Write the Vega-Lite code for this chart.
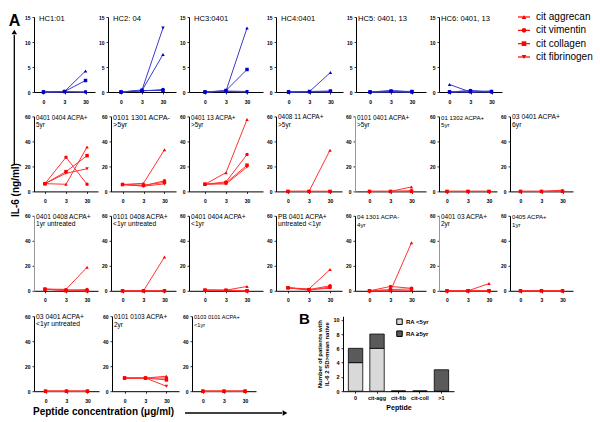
{
"$schema":"https://vega.github.io/schema/vega-lite/v6.json",
"padding":{"left":0,"top":12,"right":0,"bottom":0},
"config":{
 "view":{"stroke":null},
 "font":"Liberation Sans",
 "axis":{"grid":false,"domainColor":"#000","tickColor":"#000","labelColor":"#000","titleColor":"#000","labelFont":"Liberation Sans","labelFontSize":5,"labelFontWeight":"bold","tickSize":2,"labelPadding":2,"domainWidth":1,"tickWidth":0.8},
 "axisX":{"labelPadding":5},
 "title":{"anchor":"start","frame":"group","baseline":"bottom","offset":-14,"dx":2,"fontWeight":"normal","fontSize":6.5,"color":"#000","font":"Liberation Sans","lineHeight":7.5},
 "line":{"color":"#ff3333","strokeWidth":1},
 "point":{"filled":true,"size":12,"color":"#ff0000","opacity":1}
},
"data":{"values":[
{"p":"r1p1","s":"agg","c":"0","v":0},{"p":"r1p1","s":"agg","c":"3","v":0.1},{"p":"r1p1","s":"agg","c":"30","v":4.2},
{"p":"r1p1","s":"vim","c":"0","v":0},{"p":"r1p1","s":"vim","c":"3","v":0.1},{"p":"r1p1","s":"vim","c":"30","v":0},
{"p":"r1p1","s":"col","c":"0","v":0},{"p":"r1p1","s":"col","c":"3","v":0.1},{"p":"r1p1","s":"col","c":"30","v":2.3},
{"p":"r1p1","s":"fib","c":"0","v":0},{"p":"r1p1","s":"fib","c":"3","v":0},{"p":"r1p1","s":"fib","c":"30","v":0},
{"p":"r1p2","s":"agg","c":"0","v":0},{"p":"r1p2","s":"agg","c":"3","v":0.3},{"p":"r1p2","s":"agg","c":"30","v":7.5},
{"p":"r1p2","s":"vim","c":"0","v":0},{"p":"r1p2","s":"vim","c":"3","v":0.2},{"p":"r1p2","s":"vim","c":"30","v":0.5},
{"p":"r1p2","s":"col","c":"0","v":0},{"p":"r1p2","s":"col","c":"3","v":0.3},{"p":"r1p2","s":"col","c":"30","v":0.3},
{"p":"r1p2","s":"fib","c":"0","v":0},{"p":"r1p2","s":"fib","c":"3","v":0.4},{"p":"r1p2","s":"fib","c":"30","v":12.8},
{"p":"r1p3","s":"agg","c":"0","v":0},{"p":"r1p3","s":"agg","c":"3","v":0.2},{"p":"r1p3","s":"agg","c":"30","v":12.8},
{"p":"r1p3","s":"vim","c":"0","v":0},{"p":"r1p3","s":"vim","c":"3","v":0.1},{"p":"r1p3","s":"vim","c":"30","v":0},
{"p":"r1p3","s":"col","c":"0","v":0},{"p":"r1p3","s":"col","c":"3","v":0.3},{"p":"r1p3","s":"col","c":"30","v":4.5},
{"p":"r1p3","s":"fib","c":"0","v":0},{"p":"r1p3","s":"fib","c":"3","v":0.2},{"p":"r1p3","s":"fib","c":"30","v":0.1},
{"p":"r1p4","s":"agg","c":"0","v":0},{"p":"r1p4","s":"agg","c":"3","v":0.1},{"p":"r1p4","s":"agg","c":"30","v":3.9},
{"p":"r1p4","s":"vim","c":"0","v":0},{"p":"r1p4","s":"vim","c":"3","v":0},{"p":"r1p4","s":"vim","c":"30","v":0.1},
{"p":"r1p4","s":"col","c":"0","v":0},{"p":"r1p4","s":"col","c":"3","v":0.1},{"p":"r1p4","s":"col","c":"30","v":0.2},
{"p":"r1p4","s":"fib","c":"0","v":0},{"p":"r1p4","s":"fib","c":"3","v":0.1},{"p":"r1p4","s":"fib","c":"30","v":0},
{"p":"r1p5","s":"agg","c":"0","v":0},{"p":"r1p5","s":"agg","c":"3","v":0.3},{"p":"r1p5","s":"agg","c":"30","v":0},
{"p":"r1p5","s":"vim","c":"0","v":0},{"p":"r1p5","s":"vim","c":"3","v":0.1},{"p":"r1p5","s":"vim","c":"30","v":0},
{"p":"r1p5","s":"col","c":"0","v":0},{"p":"r1p5","s":"col","c":"3","v":0.2},{"p":"r1p5","s":"col","c":"30","v":0.1},
{"p":"r1p5","s":"fib","c":"0","v":0},{"p":"r1p5","s":"fib","c":"3","v":0},{"p":"r1p5","s":"fib","c":"30","v":0},
{"p":"r1p6","s":"agg","c":"0","v":1.5},{"p":"r1p6","s":"agg","c":"3","v":0},{"p":"r1p6","s":"agg","c":"30","v":0.2},
{"p":"r1p6","s":"vim","c":"0","v":0},{"p":"r1p6","s":"vim","c":"3","v":0.3},{"p":"r1p6","s":"vim","c":"30","v":0},
{"p":"r1p6","s":"col","c":"0","v":0},{"p":"r1p6","s":"col","c":"3","v":0.2},{"p":"r1p6","s":"col","c":"30","v":0.1},
{"p":"r1p6","s":"fib","c":"0","v":0},{"p":"r1p6","s":"fib","c":"3","v":0},{"p":"r1p6","s":"fib","c":"30","v":0},
{"p":"r2p1","s":"agg","c":"0","v":6.2},{"p":"r2p1","s":"agg","c":"3","v":5.7},{"p":"r2p1","s":"agg","c":"30","v":35.5},
{"p":"r2p1","s":"vim","c":"0","v":6.2},{"p":"r2p1","s":"vim","c":"3","v":27.3},{"p":"r2p1","s":"vim","c":"30","v":5.7},
{"p":"r2p1","s":"col","c":"0","v":6.2},{"p":"r2p1","s":"col","c":"3","v":15.8},{"p":"r2p1","s":"col","c":"30","v":28.6},
{"p":"r2p1","s":"fib","c":"0","v":6.2},{"p":"r2p1","s":"fib","c":"3","v":14.5},{"p":"r2p1","s":"fib","c":"30","v":18.1},
{"p":"r2p2","s":"agg","c":"0","v":5.5},{"p":"r2p2","s":"agg","c":"3","v":6.5},{"p":"r2p2","s":"agg","c":"30","v":33.3},
{"p":"r2p2","s":"vim","c":"0","v":5.5},{"p":"r2p2","s":"vim","c":"3","v":4.5},{"p":"r2p2","s":"vim","c":"30","v":8.5},
{"p":"r2p2","s":"col","c":"0","v":5.5},{"p":"r2p2","s":"col","c":"3","v":5},{"p":"r2p2","s":"col","c":"30","v":7.2},
{"p":"r2p2","s":"fib","c":"0","v":5.5},{"p":"r2p2","s":"fib","c":"3","v":4.2},{"p":"r2p2","s":"fib","c":"30","v":6},
{"p":"r2p3","s":"agg","c":"0","v":5.7},{"p":"r2p3","s":"agg","c":"3","v":15},{"p":"r2p3","s":"agg","c":"30","v":57.5},
{"p":"r2p3","s":"vim","c":"0","v":5.7},{"p":"r2p3","s":"vim","c":"3","v":7.6},{"p":"r2p3","s":"vim","c":"30","v":29.5},
{"p":"r2p3","s":"col","c":"0","v":5.7},{"p":"r2p3","s":"col","c":"3","v":6.8},{"p":"r2p3","s":"col","c":"30","v":21},
{"p":"r2p3","s":"fib","c":"0","v":5.7},{"p":"r2p3","s":"fib","c":"3","v":6},{"p":"r2p3","s":"fib","c":"30","v":19.5},
{"p":"r2p4","s":"agg","c":"0","v":0},{"p":"r2p4","s":"agg","c":"3","v":0},{"p":"r2p4","s":"agg","c":"30","v":33},
{"p":"r2p4","s":"vim","c":"0","v":0},{"p":"r2p4","s":"vim","c":"3","v":0},{"p":"r2p4","s":"vim","c":"30","v":0},
{"p":"r2p4","s":"col","c":"0","v":0},{"p":"r2p4","s":"col","c":"3","v":0},{"p":"r2p4","s":"col","c":"30","v":0},
{"p":"r2p4","s":"fib","c":"0","v":0},{"p":"r2p4","s":"fib","c":"3","v":0},{"p":"r2p4","s":"fib","c":"30","v":0},
{"p":"r2p5","s":"agg","c":"0","v":0},{"p":"r2p5","s":"agg","c":"3","v":0},{"p":"r2p5","s":"agg","c":"30","v":3.6},
{"p":"r2p5","s":"vim","c":"0","v":0},{"p":"r2p5","s":"vim","c":"3","v":0},{"p":"r2p5","s":"vim","c":"30","v":0.5},
{"p":"r2p5","s":"col","c":"0","v":0},{"p":"r2p5","s":"col","c":"3","v":0},{"p":"r2p5","s":"col","c":"30","v":0},
{"p":"r2p5","s":"fib","c":"0","v":0},{"p":"r2p5","s":"fib","c":"3","v":0},{"p":"r2p5","s":"fib","c":"30","v":0},
{"p":"r2p6","s":"agg","c":"0","v":0},{"p":"r2p6","s":"agg","c":"3","v":0},{"p":"r2p6","s":"agg","c":"30","v":0},
{"p":"r2p6","s":"vim","c":"0","v":0},{"p":"r2p6","s":"vim","c":"3","v":0},{"p":"r2p6","s":"vim","c":"30","v":0},
{"p":"r2p6","s":"col","c":"0","v":0},{"p":"r2p6","s":"col","c":"3","v":0},{"p":"r2p6","s":"col","c":"30","v":0},
{"p":"r2p6","s":"fib","c":"0","v":0},{"p":"r2p6","s":"fib","c":"3","v":0},{"p":"r2p6","s":"fib","c":"30","v":0},
{"p":"r2p7","s":"agg","c":"0","v":0},{"p":"r2p7","s":"agg","c":"3","v":0},{"p":"r2p7","s":"agg","c":"30","v":1},
{"p":"r2p7","s":"vim","c":"0","v":0},{"p":"r2p7","s":"vim","c":"3","v":0},{"p":"r2p7","s":"vim","c":"30","v":0.3},
{"p":"r2p7","s":"col","c":"0","v":0},{"p":"r2p7","s":"col","c":"3","v":0},{"p":"r2p7","s":"col","c":"30","v":0},
{"p":"r2p7","s":"fib","c":"0","v":0},{"p":"r2p7","s":"fib","c":"3","v":0},{"p":"r2p7","s":"fib","c":"30","v":0},
{"p":"r3p1","s":"agg","c":"0","v":1.3},{"p":"r3p1","s":"agg","c":"3","v":1.2},{"p":"r3p1","s":"agg","c":"30","v":18.8},
{"p":"r3p1","s":"vim","c":"0","v":1.3},{"p":"r3p1","s":"vim","c":"3","v":0.5},{"p":"r3p1","s":"vim","c":"30","v":1},
{"p":"r3p1","s":"col","c":"0","v":1.3},{"p":"r3p1","s":"col","c":"3","v":0},{"p":"r3p1","s":"col","c":"30","v":0},
{"p":"r3p1","s":"fib","c":"0","v":1.3},{"p":"r3p1","s":"fib","c":"3","v":0.8},{"p":"r3p1","s":"fib","c":"30","v":0},
{"p":"r3p2","s":"agg","c":"0","v":0},{"p":"r3p2","s":"agg","c":"3","v":0},{"p":"r3p2","s":"agg","c":"30","v":27},
{"p":"r3p2","s":"vim","c":"0","v":0},{"p":"r3p2","s":"vim","c":"3","v":0},{"p":"r3p2","s":"vim","c":"30","v":0},
{"p":"r3p2","s":"col","c":"0","v":0},{"p":"r3p2","s":"col","c":"3","v":0},{"p":"r3p2","s":"col","c":"30","v":0},
{"p":"r3p2","s":"fib","c":"0","v":0},{"p":"r3p2","s":"fib","c":"3","v":0},{"p":"r3p2","s":"fib","c":"30","v":0},
{"p":"r3p3","s":"agg","c":"0","v":0.5},{"p":"r3p3","s":"agg","c":"3","v":0.5},{"p":"r3p3","s":"agg","c":"30","v":3.5},
{"p":"r3p3","s":"vim","c":"0","v":0.5},{"p":"r3p3","s":"vim","c":"3","v":0.3},{"p":"r3p3","s":"vim","c":"30","v":0},
{"p":"r3p3","s":"col","c":"0","v":0.5},{"p":"r3p3","s":"col","c":"3","v":0.5},{"p":"r3p3","s":"col","c":"30","v":0},
{"p":"r3p3","s":"fib","c":"0","v":0.5},{"p":"r3p3","s":"fib","c":"3","v":0.3},{"p":"r3p3","s":"fib","c":"30","v":0},
{"p":"r3p4","s":"agg","c":"0","v":2.4},{"p":"r3p4","s":"agg","c":"3","v":1.5},{"p":"r3p4","s":"agg","c":"30","v":17},
{"p":"r3p4","s":"vim","c":"0","v":2.4},{"p":"r3p4","s":"vim","c":"3","v":1},{"p":"r3p4","s":"vim","c":"30","v":4},
{"p":"r3p4","s":"col","c":"0","v":2.4},{"p":"r3p4","s":"col","c":"3","v":0.5},{"p":"r3p4","s":"col","c":"30","v":3},
{"p":"r3p4","s":"fib","c":"0","v":2.4},{"p":"r3p4","s":"fib","c":"3","v":1},{"p":"r3p4","s":"fib","c":"30","v":2},
{"p":"r3p5","s":"agg","c":"0","v":0},{"p":"r3p5","s":"agg","c":"3","v":0},{"p":"r3p5","s":"agg","c":"30","v":38.5},
{"p":"r3p5","s":"vim","c":"0","v":0},{"p":"r3p5","s":"vim","c":"3","v":3.5},{"p":"r3p5","s":"vim","c":"30","v":2},
{"p":"r3p5","s":"col","c":"0","v":0},{"p":"r3p5","s":"col","c":"3","v":1},{"p":"r3p5","s":"col","c":"30","v":1.5},
{"p":"r3p5","s":"fib","c":"0","v":0},{"p":"r3p5","s":"fib","c":"3","v":0},{"p":"r3p5","s":"fib","c":"30","v":0},
{"p":"r3p6","s":"agg","c":"0","v":0},{"p":"r3p6","s":"agg","c":"3","v":0},{"p":"r3p6","s":"agg","c":"30","v":5.8},
{"p":"r3p6","s":"vim","c":"0","v":0},{"p":"r3p6","s":"vim","c":"3","v":0},{"p":"r3p6","s":"vim","c":"30","v":0},
{"p":"r3p6","s":"col","c":"0","v":0},{"p":"r3p6","s":"col","c":"3","v":0},{"p":"r3p6","s":"col","c":"30","v":0},
{"p":"r3p6","s":"fib","c":"0","v":0},{"p":"r3p6","s":"fib","c":"3","v":0},{"p":"r3p6","s":"fib","c":"30","v":0},
{"p":"r3p7","s":"agg","c":"0","v":0},{"p":"r3p7","s":"agg","c":"3","v":0},{"p":"r3p7","s":"agg","c":"30","v":0},
{"p":"r3p7","s":"vim","c":"0","v":0},{"p":"r3p7","s":"vim","c":"3","v":0},{"p":"r3p7","s":"vim","c":"30","v":0},
{"p":"r3p7","s":"col","c":"0","v":0},{"p":"r3p7","s":"col","c":"3","v":0},{"p":"r3p7","s":"col","c":"30","v":0},
{"p":"r3p7","s":"fib","c":"0","v":0},{"p":"r3p7","s":"fib","c":"3","v":0},{"p":"r3p7","s":"fib","c":"30","v":0},
{"p":"r4p1","s":"agg","c":"0","v":0},{"p":"r4p1","s":"agg","c":"3","v":0},{"p":"r4p1","s":"agg","c":"30","v":0},
{"p":"r4p1","s":"vim","c":"0","v":0},{"p":"r4p1","s":"vim","c":"3","v":0},{"p":"r4p1","s":"vim","c":"30","v":0},
{"p":"r4p1","s":"col","c":"0","v":0},{"p":"r4p1","s":"col","c":"3","v":0},{"p":"r4p1","s":"col","c":"30","v":0},
{"p":"r4p1","s":"fib","c":"0","v":0},{"p":"r4p1","s":"fib","c":"3","v":0},{"p":"r4p1","s":"fib","c":"30","v":0},
{"p":"r4p2","s":"agg","c":"0","v":10.5},{"p":"r4p2","s":"agg","c":"3","v":10.5},{"p":"r4p2","s":"agg","c":"30","v":12},
{"p":"r4p2","s":"vim","c":"0","v":10.5},{"p":"r4p2","s":"vim","c":"3","v":10.5},{"p":"r4p2","s":"vim","c":"30","v":10.5},
{"p":"r4p2","s":"col","c":"0","v":10.5},{"p":"r4p2","s":"col","c":"3","v":10.5},{"p":"r4p2","s":"col","c":"30","v":9},
{"p":"r4p2","s":"fib","c":"0","v":10.5},{"p":"r4p2","s":"fib","c":"3","v":10.5},{"p":"r4p2","s":"fib","c":"30","v":4},
{"p":"r4p3","s":"agg","c":"0","v":0},{"p":"r4p3","s":"agg","c":"3","v":0},{"p":"r4p3","s":"agg","c":"30","v":0},
{"p":"r4p3","s":"vim","c":"0","v":0},{"p":"r4p3","s":"vim","c":"3","v":0},{"p":"r4p3","s":"vim","c":"30","v":0},
{"p":"r4p3","s":"col","c":"0","v":0},{"p":"r4p3","s":"col","c":"3","v":0},{"p":"r4p3","s":"col","c":"30","v":0},
{"p":"r4p3","s":"fib","c":"0","v":0},{"p":"r4p3","s":"fib","c":"3","v":0},{"p":"r4p3","s":"fib","c":"30","v":0}
]},
"bounds":"flush",
"spacing":14,
"resolve":{"scale":{"color":"independent"},"legend":{"color":"independent"}},
"hconcat":[
{"width":20,"height":400,
 "layer":[
  {"data":{"values":[{"t":"A"}]},"mark":{"type":"text","fontSize":16,"fontWeight":"bold"},"encoding":{"x":{"datum":0.725,"type":"quantitative","scale":{"domain":[0,1]},"axis":null},"y":{"datum":0.99,"type":"quantitative","scale":{"domain":[0,1]},"axis":null},"text":{"field":"t"}}},
  {"data":{"values":[{"t":"IL-6 (ng/ml)"}]},"mark":{"type":"text","fontSize":10,"fontWeight":"bold","angle":270},"encoding":{"x":{"datum":0.775,"type":"quantitative","axis":null},"y":{"datum":0.5675,"type":"quantitative","axis":null},"text":{"field":"t"}}},
  {"data":{"values":[{"t":"arrow"}]},"mark":{"type":"rule","color":"#000","strokeWidth":1.3},"encoding":{"x":{"datum":0.715,"type":"quantitative","axis":null},"y":{"datum":0.63,"type":"quantitative","axis":null},"y2":{"datum":0.955}}},
  {"data":{"values":[{"t":"head"}]},"mark":{"type":"point","shape":"triangle-up","filled":true,"size":30,"color":"#000","opacity":1},"encoding":{"x":{"datum":0.715,"type":"quantitative","axis":null},"y":{"datum":0.9625,"type":"quantitative","axis":null}}},
  {"data":{"values":[{"t":"Peptide concentration (μg/ml)"}]},"mark":{"type":"text","align":"left","fontSize":10,"fontWeight":"bold"},"encoding":{"x":{"datum":1.65,"type":"quantitative","axis":null},"y":{"datum":0.0125,"type":"quantitative","axis":null},"text":{"field":"t"}}},
  {"data":{"values":[{"t":"arrow2"}]},"mark":{"type":"rule","color":"#000","strokeWidth":1.3},"encoding":{"x":{"datum":9.25,"type":"quantitative","axis":null},"x2":{"datum":14.1},"y":{"datum":0.01,"type":"quantitative","axis":null}}},
  {"data":{"values":[{"t":"head2"}]},"mark":{"type":"point","shape":"triangle-right","filled":true,"size":30,"color":"#000","opacity":1},"encoding":{"x":{"datum":14.25,"type":"quantitative","axis":null},"y":{"datum":0.01,"type":"quantitative","axis":null}}}
 ]},
{"vconcat":[
 {"hconcat":[
  {"width":61,"height":75,"title":{"text":"HC1:01","fontSize":7.6,"dx":5,"offset":-8},"transform":[{"filter":"datum.p=='r1p1'"}],
   "encoding":{"x":{"field":"c","type":"ordinal","sort":["0","3","30"],"scale":{"type":"point","padding":0.45},"axis":{"title":null,"labelAngle":0}},"y":{"field":"v","type":"quantitative","scale":{"domain":[0,15],"nice":false},"axis":{"title":null,"values":[0,5,10,15]}}},
   "layer":[{"mark":{"type":"line","color":"#3a3ad6"},"encoding":{"detail":{"field":"s"}}},{"mark":{"type":"point","color":"#0000cc"},"encoding":{"shape":{"field":"s","type":"nominal","scale":{"domain":["agg","vim","col","fib"],"range":["triangle-up","circle","square","triangle-down"]},"legend":null}}}]},
  {"width":68,"height":75,"title":{"text":"HC2: 04","fontSize":7.6,"dx":5,"offset":-8},"transform":[{"filter":"datum.p=='r1p2'"}],
   "encoding":{"x":{"field":"c","type":"ordinal","sort":["0","3","30"],"scale":{"type":"point","padding":0.62},"axis":{"title":null,"labelAngle":0}},"y":{"field":"v","type":"quantitative","scale":{"domain":[0,15],"nice":false},"axis":{"title":null,"values":[0,5,10,15]}}},
   "layer":[{"mark":{"type":"line","color":"#3a3ad6"},"encoding":{"detail":{"field":"s"}}},{"mark":{"type":"point","color":"#0000cc"},"encoding":{"shape":{"field":"s","type":"nominal","scale":{"domain":["agg","vim","col","fib"],"range":["triangle-up","circle","square","triangle-down"]},"legend":null}}}]},
  {"width":74,"height":75,"title":{"text":"HC3:0401","fontSize":7.6,"dx":5,"offset":-8},"transform":[{"filter":"datum.p=='r1p3'"}],
   "encoding":{"x":{"field":"c","type":"ordinal","sort":["0","3","30"],"scale":{"type":"point","padding":0.76},"axis":{"title":null,"labelAngle":0}},"y":{"field":"v","type":"quantitative","scale":{"domain":[0,15],"nice":false},"axis":{"title":null,"values":[0,5,10,15]}}},
   "layer":[{"mark":{"type":"line","color":"#3a3ad6"},"encoding":{"detail":{"field":"s"}}},{"mark":{"type":"point","color":"#0000cc"},"encoding":{"shape":{"field":"s","type":"nominal","scale":{"domain":["agg","vim","col","fib"],"range":["triangle-up","circle","square","triangle-down"]},"legend":null}}}]},
  {"width":67,"height":75,"title":{"text":"HC4:0401","fontSize":7.6,"dx":5,"offset":-8},"transform":[{"filter":"datum.p=='r1p4'"}],
   "encoding":{"x":{"field":"c","type":"ordinal","sort":["0","3","30"],"scale":{"type":"point","padding":0.6},"axis":{"title":null,"labelAngle":0}},"y":{"field":"v","type":"quantitative","scale":{"domain":[0,15],"nice":false},"axis":{"title":null,"values":[0,5,10,15]}}},
   "layer":[{"mark":{"type":"line","color":"#3a3ad6"},"encoding":{"detail":{"field":"s"}}},{"mark":{"type":"point","color":"#0000cc"},"encoding":{"shape":{"field":"s","type":"nominal","scale":{"domain":["agg","vim","col","fib"],"range":["triangle-up","circle","square","triangle-down"]},"legend":null}}}]},
  {"width":70,"height":75,"title":{"text":"HC5: 0401, 13","fontSize":7.6,"dx":2,"offset":-8},"transform":[{"filter":"datum.p=='r1p5'"}],
   "encoding":{"x":{"field":"c","type":"ordinal","sort":["0","3","30"],"scale":{"type":"point","padding":0.67},"axis":{"title":null,"labelAngle":0}},"y":{"field":"v","type":"quantitative","scale":{"domain":[0,15],"nice":false},"axis":{"title":null,"values":[0,5,10,15]}}},
   "layer":[{"mark":{"type":"line","color":"#3a3ad6"},"encoding":{"detail":{"field":"s"}}},{"mark":{"type":"point","color":"#0000cc"},"encoding":{"shape":{"field":"s","type":"nominal","scale":{"domain":["agg","vim","col","fib"],"range":["triangle-up","circle","square","triangle-down"]},"legend":null}}}]},
  {"width":63,"height":75,"title":{"text":"HC6: 0401, 13","fontSize":7.6,"dx":2,"offset":-8},"transform":[{"filter":"datum.p=='r1p6'"}],
   "encoding":{"x":{"field":"c","type":"ordinal","sort":["0","3","30"],"scale":{"type":"point","padding":0.5},"axis":{"title":null,"labelAngle":0}},"y":{"field":"v","type":"quantitative","scale":{"domain":[0,15],"nice":false},"axis":{"title":null,"values":[0,5,10,15]}}},
   "layer":[{"mark":{"type":"line","color":"#3a3ad6"},"encoding":{"detail":{"field":"s"}}},{"mark":{"type":"point","color":"#0000cc"},"encoding":{"shape":{"field":"s","type":"nominal","scale":{"domain":["agg","vim","col","fib"],"range":["triangle-up","circle","square","triangle-down"]},"legend":null}}}]},
  {"width":80,"height":40,
   "data":{"values":[{"s":"agg","t":"cit aggrecan"},{"s":"vim","t":"cit vimentin"},{"s":"col","t":"cit collagen"},{"s":"fib","t":"cit fibrinogen"}]},
   "encoding":{"y":{"field":"t","type":"nominal","sort":null,"scale":{"type":"point","padding":0},"axis":null}},
   "layer":[
    {"mark":{"type":"rule","color":"#ff0000","strokeWidth":1.2},"encoding":{"x":{"datum":0.0375,"type":"quantitative","scale":{"domain":[0,1]},"axis":null},"x2":{"datum":0.1875}}},
    {"mark":{"type":"point","color":"#ff0000","size":22},"encoding":{"x":{"datum":0.1125,"type":"quantitative","axis":null},"shape":{"field":"s","type":"nominal","scale":{"domain":["agg","vim","col","fib"],"range":["triangle-up","circle","square","triangle-down"]},"legend":null}}},
    {"mark":{"type":"text","align":"left","fontSize":10,"color":"#000"},"encoding":{"x":{"datum":0.2625,"type":"quantitative","axis":null},"text":{"field":"t"}}}
   ]}
 ],"spacing":13,"bounds":"flush"},
 {"hconcat":[
  {"width":64,"height":75,"title":{"text":["0401 0404 ACPA+","5yr"],"fontSize":6.3},"transform":[{"filter":"datum.p=='r2p1'"}],
   "encoding":{"x":{"field":"c","type":"ordinal","sort":["0","3","30"],"scale":{"type":"point","padding":0.52},"axis":{"title":null,"labelAngle":0}},"y":{"field":"v","type":"quantitative","scale":{"domain":[0,60],"nice":false},"axis":{"title":null,"values":[0,20,40,60]}}},
   "layer":[{"mark":{"type":"line"},"encoding":{"detail":{"field":"s"}}},{"mark":{"type":"point"},"encoding":{"shape":{"field":"s","type":"nominal","scale":{"domain":["agg","vim","col","fib"],"range":["triangle-up","circle","square","triangle-down"]},"legend":null}}}]},
  {"width":65,"height":75,"title":{"text":["0101 1301 ACPA-",">5yr"],"fontSize":7.2},"transform":[{"filter":"datum.p=='r2p2'"}],
   "encoding":{"x":{"field":"c","type":"ordinal","sort":["0","3","30"],"scale":{"type":"point","padding":0.55},"axis":{"title":null,"labelAngle":0}},"y":{"field":"v","type":"quantitative","scale":{"domain":[0,60],"nice":false},"axis":{"title":null,"values":[0,20,40,60]}}},
   "layer":[{"mark":{"type":"line"},"encoding":{"detail":{"field":"s"}}},{"mark":{"type":"point"},"encoding":{"shape":{"field":"s","type":"nominal","scale":{"domain":["agg","vim","col","fib"],"range":["triangle-up","circle","square","triangle-down"]},"legend":null}}}]},
  {"width":74,"height":75,"title":{"text":["0401 13 ACPA+",">5yr"],"fontSize":6.3},"transform":[{"filter":"datum.p=='r2p3'"}],
   "encoding":{"x":{"field":"c","type":"ordinal","sort":["0","3","30"],"scale":{"type":"point","padding":0.76},"axis":{"title":null,"labelAngle":0}},"y":{"field":"v","type":"quantitative","scale":{"domain":[0,60],"nice":false},"axis":{"title":null,"values":[0,20,40,60]}}},
   "layer":[{"mark":{"type":"line"},"encoding":{"detail":{"field":"s"}}},{"mark":{"type":"point"},"encoding":{"shape":{"field":"s","type":"nominal","scale":{"domain":["agg","vim","col","fib"],"range":["triangle-up","circle","square","triangle-down"]},"legend":null}}}]},
  {"width":66,"height":75,"title":{"text":["0408 11 ACPA+",">5yr"],"fontSize":6.5},"transform":[{"filter":"datum.p=='r2p4'"}],
   "encoding":{"x":{"field":"c","type":"ordinal","sort":["0","3","30"],"scale":{"type":"point","padding":0.57},"axis":{"title":null,"labelAngle":0}},"y":{"field":"v","type":"quantitative","scale":{"domain":[0,60],"nice":false},"axis":{"title":null,"values":[0,20,40,60]}}},
   "layer":[{"mark":{"type":"line"},"encoding":{"detail":{"field":"s"}}},{"mark":{"type":"point"},"encoding":{"shape":{"field":"s","type":"nominal","scale":{"domain":["agg","vim","col","fib"],"range":["triangle-up","circle","square","triangle-down"]},"legend":null}}}]},
  {"width":71,"height":75,"title":{"text":["0101 0401 ACPA+",">5yr"],"fontSize":6.4},"transform":[{"filter":"datum.p=='r2p5'"}],
   "encoding":{"x":{"field":"c","type":"ordinal","sort":["0","3","30"],"scale":{"type":"point","padding":0.69},"axis":{"title":null,"labelAngle":0}},"y":{"field":"v","type":"quantitative","scale":{"domain":[0,60],"nice":false},"axis":{"title":null,"values":[0,20,40,60],"domainColor":"#999"}}},
   "layer":[{"mark":{"type":"line"},"encoding":{"detail":{"field":"s"}}},{"mark":{"type":"point"},"encoding":{"shape":{"field":"s","type":"nominal","scale":{"domain":["agg","vim","col","fib"],"range":["triangle-up","circle","square","triangle-down"]},"legend":null}}}]},
  {"width":58,"height":75,"title":{"text":["01 1302 ACPA+","5yr"],"fontSize":6.1},"transform":[{"filter":"datum.p=='r2p6'"}],
   "encoding":{"x":{"field":"c","type":"ordinal","sort":["0","3","30"],"scale":{"type":"point","padding":0.38},"axis":{"title":null,"labelAngle":0}},"y":{"field":"v","type":"quantitative","scale":{"domain":[0,60],"nice":false},"axis":{"title":null,"values":[0,20,40,60]}}},
   "layer":[{"mark":{"type":"line"},"encoding":{"detail":{"field":"s"}}},{"mark":{"type":"point"},"encoding":{"shape":{"field":"s","type":"nominal","scale":{"domain":["agg","vim","col","fib"],"range":["triangle-up","circle","square","triangle-down"]},"legend":null}}}]},
  {"width":63,"height":75,"title":{"text":["03 0401 ACPA+","6yr"],"fontSize":6.8},"transform":[{"filter":"datum.p=='r2p7'"}],
   "encoding":{"x":{"field":"c","type":"ordinal","sort":["0","3","30"],"scale":{"type":"point","padding":0.5},"axis":{"title":null,"labelAngle":0}},"y":{"field":"v","type":"quantitative","scale":{"domain":[0,60],"nice":false},"axis":{"title":null,"values":[0,20,40,60]}}},
   "layer":[{"mark":{"type":"line"},"encoding":{"detail":{"field":"s"}}},{"mark":{"type":"point"},"encoding":{"shape":{"field":"s","type":"nominal","scale":{"domain":["agg","vim","col","fib"],"range":["triangle-up","circle","square","triangle-down"]},"legend":null}}}]}
 ],"spacing":13,"bounds":"flush"},
 {"hconcat":[
  {"width":64,"height":75,"title":{"text":["0401 0408 ACPA+","1yr untreated"],"fontSize":6.7},"transform":[{"filter":"datum.p=='r3p1'"}],
   "encoding":{"x":{"field":"c","type":"ordinal","sort":["0","3","30"],"scale":{"type":"point","padding":0.52},"axis":{"title":null,"labelAngle":0}},"y":{"field":"v","type":"quantitative","scale":{"domain":[0,60],"nice":false},"axis":{"title":null,"values":[0,20,40,60],"domainColor":"#999"}}},
   "layer":[{"mark":{"type":"line"},"encoding":{"detail":{"field":"s"}}},{"mark":{"type":"point"},"encoding":{"shape":{"field":"s","type":"nominal","scale":{"domain":["agg","vim","col","fib"],"range":["triangle-up","circle","square","triangle-down"]},"legend":null}}}]},
  {"width":65,"height":75,"title":{"text":["0101 0408 ACPA+","<1yr untreated"],"fontSize":6.7},"transform":[{"filter":"datum.p=='r3p2'"}],
   "encoding":{"x":{"field":"c","type":"ordinal","sort":["0","3","30"],"scale":{"type":"point","padding":0.55},"axis":{"title":null,"labelAngle":0}},"y":{"field":"v","type":"quantitative","scale":{"domain":[0,60],"nice":false},"axis":{"title":null,"values":[0,20,40,60]}}},
   "layer":[{"mark":{"type":"line"},"encoding":{"detail":{"field":"s"}}},{"mark":{"type":"point"},"encoding":{"shape":{"field":"s","type":"nominal","scale":{"domain":["agg","vim","col","fib"],"range":["triangle-up","circle","square","triangle-down"]},"legend":null}}}]},
  {"width":74,"height":75,"title":{"text":["0401 0404 ACPA+","<1yr"],"fontSize":6.7},"transform":[{"filter":"datum.p=='r3p3'"}],
   "encoding":{"x":{"field":"c","type":"ordinal","sort":["0","3","30"],"scale":{"type":"point","padding":0.76},"axis":{"title":null,"labelAngle":0}},"y":{"field":"v","type":"quantitative","scale":{"domain":[0,60],"nice":false},"axis":{"title":null,"values":[0,20,40,60]}}},
   "layer":[{"mark":{"type":"line"},"encoding":{"detail":{"field":"s"}}},{"mark":{"type":"point"},"encoding":{"shape":{"field":"s","type":"nominal","scale":{"domain":["agg","vim","col","fib"],"range":["triangle-up","circle","square","triangle-down"]},"legend":null}}}]},
  {"width":66,"height":75,"title":{"text":["PB 0401 ACPA+","\u00a0\u00a0\u00a0\u00a0\u00a0untreated <1yr"],"fontSize":6.7},"transform":[{"filter":"datum.p=='r3p4'"}],
   "encoding":{"x":{"field":"c","type":"ordinal","sort":["0","3","30"],"scale":{"type":"point","padding":0.57},"axis":{"title":null,"labelAngle":0}},"y":{"field":"v","type":"quantitative","scale":{"domain":[0,60],"nice":false},"axis":{"title":null,"values":[0,20,40,60]}}},
   "layer":[{"mark":{"type":"line"},"encoding":{"detail":{"field":"s"}}},{"mark":{"type":"point"},"encoding":{"shape":{"field":"s","type":"nominal","scale":{"domain":["agg","vim","col","fib"],"range":["triangle-up","circle","square","triangle-down"]},"legend":null}}}]},
  {"width":71,"height":75,"title":{"text":["04 1301 ACPA-","4yr"],"fontSize":6.2},"transform":[{"filter":"datum.p=='r3p5'"}],
   "encoding":{"x":{"field":"c","type":"ordinal","sort":["0","3","30"],"scale":{"type":"point","padding":0.69},"axis":{"title":null,"labelAngle":0}},"y":{"field":"v","type":"quantitative","scale":{"domain":[0,60],"nice":false},"axis":{"title":null,"values":[0,20,40,60]}}},
   "layer":[{"mark":{"type":"line"},"encoding":{"detail":{"field":"s"}}},{"mark":{"type":"point"},"encoding":{"shape":{"field":"s","type":"nominal","scale":{"domain":["agg","vim","col","fib"],"range":["triangle-up","circle","square","triangle-down"]},"legend":null}}}]},
  {"width":58,"height":75,"title":{"text":["0401 03 ACPA+","2yr"],"fontSize":6.5},"transform":[{"filter":"datum.p=='r3p6'"}],
   "encoding":{"x":{"field":"c","type":"ordinal","sort":["0","3","30"],"scale":{"type":"point","padding":0.38},"axis":{"title":null,"labelAngle":0}},"y":{"field":"v","type":"quantitative","scale":{"domain":[0,60],"nice":false},"axis":{"title":null,"values":[0,20,40,60],"domainColor":"#999"}}},
   "layer":[{"mark":{"type":"line"},"encoding":{"detail":{"field":"s"}}},{"mark":{"type":"point"},"encoding":{"shape":{"field":"s","type":"nominal","scale":{"domain":["agg","vim","col","fib"],"range":["triangle-up","circle","square","triangle-down"]},"legend":null}}}]},
  {"width":63,"height":75,"title":{"text":["0405 ACPA+","1yr"],"fontSize":6.1},"transform":[{"filter":"datum.p=='r3p7'"}],
   "encoding":{"x":{"field":"c","type":"ordinal","sort":["0","3","30"],"scale":{"type":"point","padding":0.5},"axis":{"title":null,"labelAngle":0}},"y":{"field":"v","type":"quantitative","scale":{"domain":[0,60],"nice":false},"axis":{"title":null,"values":[0,20,40,60]}}},
   "layer":[{"mark":{"type":"line"},"encoding":{"detail":{"field":"s"}}},{"mark":{"type":"point"},"encoding":{"shape":{"field":"s","type":"nominal","scale":{"domain":["agg","vim","col","fib"],"range":["triangle-up","circle","square","triangle-down"]},"legend":null}}}]}
 ],"spacing":13,"bounds":"flush"},
 {"hconcat":[
  {"width":65,"height":75,"title":{"text":["03 0401 ACPA+","<1yr untreated"],"fontSize":6.8},"transform":[{"filter":"datum.p=='r4p1'"}],
   "encoding":{"x":{"field":"c","type":"ordinal","sort":["0","3","30"],"scale":{"type":"point","padding":0.55},"axis":{"title":null,"labelAngle":0}},"y":{"field":"v","type":"quantitative","scale":{"domain":[0,60],"nice":false},"axis":{"title":null,"values":[0,20,40,60]}}},
   "layer":[{"mark":{"type":"line"},"encoding":{"detail":{"field":"s"}}},{"mark":{"type":"point"},"encoding":{"shape":{"field":"s","type":"nominal","scale":{"domain":["agg","vim","col","fib"],"range":["triangle-up","circle","square","triangle-down"]},"legend":null}}}]},
  {"width":67,"height":75,"title":{"text":["0101 0103 ACPA+","2yr"],"fontSize":6.5},"transform":[{"filter":"datum.p=='r4p2'"}],
   "encoding":{"x":{"field":"c","type":"ordinal","sort":["0","3","30"],"scale":{"type":"point","padding":0.6},"axis":{"title":null,"labelAngle":0}},"y":{"field":"v","type":"quantitative","scale":{"domain":[0,60],"nice":false},"axis":{"title":null,"values":[0,20,40,60]}}},
   "layer":[{"mark":{"type":"line"},"encoding":{"detail":{"field":"s"}}},{"mark":{"type":"point"},"encoding":{"shape":{"field":"s","type":"nominal","scale":{"domain":["agg","vim","col","fib"],"range":["triangle-up","circle","square","triangle-down"]},"legend":null}}}]},
  {"width":64,"height":75,"title":{"text":["0103 0101 ACPA+","<1yr"],"fontSize":5.6},"transform":[{"filter":"datum.p=='r4p3'"}],
   "encoding":{"x":{"field":"c","type":"ordinal","sort":["0","3","30"],"scale":{"type":"point","padding":0.52},"axis":{"title":null,"labelAngle":0}},"y":{"field":"v","type":"quantitative","scale":{"domain":[0,60],"nice":false},"axis":{"title":null,"values":[0,20,40,60]}}},
   "layer":[{"mark":{"type":"line"},"encoding":{"detail":{"field":"s"}}},{"mark":{"type":"point"},"encoding":{"shape":{"field":"s","type":"nominal","scale":{"domain":["agg","vim","col","fib"],"range":["triangle-up","circle","square","triangle-down"]},"legend":null}}}]},
  {"width":61,"height":75,"data":{"values":[]},"mark":"point"},
  {"width":111,"height":75,
   "data":{"values":[
    {"pep":"0","grp":"RA <5yr","n":4},{"pep":"0","grp":"RA ≥5yr","n":2},
    {"pep":"cit-agg","grp":"RA <5yr","n":6},{"pep":"cit-agg","grp":"RA ≥5yr","n":2},
    {"pep":"cit-fib","grp":"RA <5yr","n":0},{"pep":"cit-fib","grp":"RA ≥5yr","n":0},
    {"pep":"cit-coll","grp":"RA <5yr","n":0},{"pep":"cit-coll","grp":"RA ≥5yr","n":0},
    {"pep":">1","grp":"RA <5yr","n":0},{"pep":">1","grp":"RA ≥5yr","n":3}
   ]},
   "title":{"text":"B","fontSize":15,"fontWeight":"bold","dx":-44,"offset":-11},
   "mark":{"type":"bar","stroke":"#000","strokeWidth":0.8},
   "encoding":{
    "x":{"field":"pep","type":"nominal","sort":["0","cit-agg","cit-fib","cit-coll",">1"],"scale":{"paddingInner":0.33,"paddingOuter":0.25},"axis":{"title":"Peptide","labelAngle":0,"labelFontSize":5.5,"labelPadding":2,"titleFontSize":7,"titleFontWeight":"bold","titlePadding":3}},
    "y":{"field":"n","type":"quantitative","stack":"zero","scale":{"domain":[0,10.5],"nice":false},"axis":{"title":["Number of patients with","IL-6 2 SD>mean native"],"values":[0,2,4,6,8,10],"labelFontSize":5.5,"titleFontSize":6,"titleFontWeight":"bold","titlePadding":3,"titleLineHeight":7}},
    "color":{"field":"grp","type":"nominal","scale":{"domain":["RA <5yr","RA ≥5yr"],"range":["#d9d9d9","#5a5a5a"]},"legend":{"title":null,"orient":"none","legendX":53,"legendY":2,"symbolType":"square","symbolSize":30,"symbolStrokeColor":"#000","symbolStrokeWidth":1,"symbolOpacity":1,"labelFontSize":6,"labelFontWeight":"bold","rowPadding":1,"labelOffset":3}},
    "order":{"field":"grp","sort":"ascending"}
   }}
 ],"spacing":13,"bounds":"flush","resolve":{"scale":{"color":"independent"},"legend":{"color":"independent"}}}
],"spacing":9.4,"bounds":"full","resolve":{"scale":{"color":"independent"},"legend":{"color":"independent"}}}
]
}
